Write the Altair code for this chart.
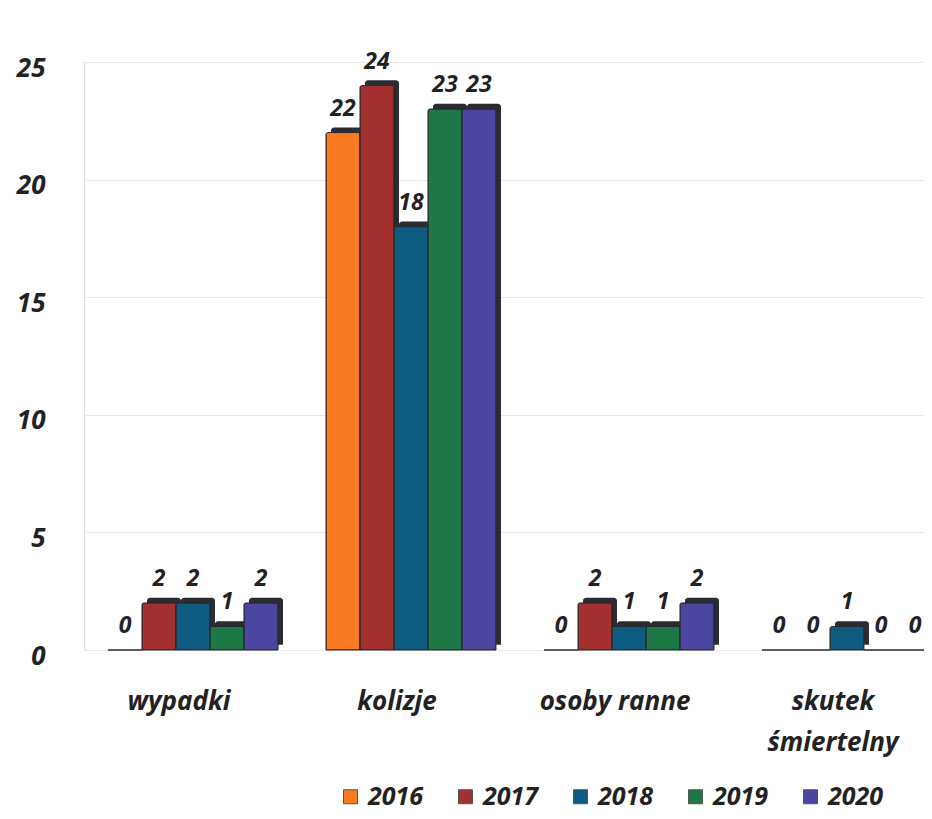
import altair as alt
import pandas as pd

categories = ["wypadki", "kolizje", "osoby ranne", "skutek|śmiertelny"]
years = ["2016", "2017", "2018", "2019", "2020"]
values = {
    "2016": [0, 22, 0, 0],
    "2017": [2, 24, 2, 0],
    "2018": [2, 18, 1, 1],
    "2019": [1, 23, 1, 0],
    "2020": [2, 23, 2, 0],
}
colors = ["#FA7A22", "#A3312F", "#0D5B80", "#1E7746", "#4B47A0"]

rows = []
for y in years:
    for c, v in zip(categories, values[y]):
        rows.append({"kategoria": c, "rok": y, "wartosc": v})
df = pd.DataFrame(rows)

FONT = "Open Sans"
TXT = "#222222"
DEPTH = 0.22  # 3D depth of the bar sides, in value units

xenc = alt.X("kategoria:N", sort=categories, title=None,
             scale=alt.Scale(range=[0, 872], paddingInner=0.22, paddingOuter=0.11),
             axis=alt.Axis(labelExpr="split(datum.label, '|')", labelAngle=0,
                           labelFont=FONT, labelFontSize=26, labelFontStyle="italic",
                           labelFontWeight="bold", labelColor=TXT,
                           labelPadding=38, labelLineHeight=41, labelBaseline="top",
                           labelOffset=-14,
                           domain=False, ticks=False, grid=False))
yaxis = alt.Axis(values=[0, 5, 10, 15, 20, 25], labelFont=FONT,
                 labelFontSize=26, labelFontStyle="italic",
                 labelFontWeight="bold", labelColor=TXT,
                 labelPadding=39, labelOffset=6, domain=False, ticks=False,
                 gridColor="#E6E6E6", gridWidth=1)
yscale = alt.Scale(domain=[0, 25])

shadow = alt.Chart(df).transform_calculate(
    top=f"datum.wartosc + {DEPTH}", bot=f"{DEPTH}"
).mark_bar(color="#2b2b33", cornerRadiusTopRight=3, cornerRadiusTopLeft=3).encode(
    x=xenc,
    xOffset=alt.XOffset("rok:N", sort=years, scale=alt.Scale(range=[5, 175])),
    y=alt.Y("top:Q", title=None, scale=yscale, axis=yaxis),
    y2="bot:Q",
)

bars = alt.Chart(df).mark_bar(stroke="#2a2a2a", strokeWidth=1, cornerRadiusTopRight=2,
                              cornerRadiusTopLeft=2).encode(
    x=xenc,
    xOffset=alt.XOffset("rok:N", sort=years, scale=alt.Scale(range=[0, 170])),
    y=alt.Y("wartosc:Q", title=None, scale=yscale, axis=yaxis),
    color=alt.Color("rok:N", sort=years,
                    scale=alt.Scale(domain=years, range=colors),
                    legend=alt.Legend(title=None, orient="none", direction="horizontal",
                                      legendX=254, legendY=722,
                                      symbolType="square", symbolSize=196,
                                      symbolStrokeColor="#555555", symbolStrokeWidth=1,
                                      labelFont=FONT, labelFontSize=25,
                                      labelFontStyle="italic", labelFontWeight="bold",
                                      labelColor=TXT, columnPadding=29,
                                      labelOffset=5)),
)

labels = alt.Chart(df).mark_text(dy=-24, font=FONT, fontSize=23, fontStyle="italic",
                                 fontWeight="bold", color=TXT).encode(
    x=xenc,
    xOffset=alt.XOffset("rok:N", sort=years, scale=alt.Scale(range=[0, 170])),
    y=alt.Y("wartosc:Q", title=None, scale=yscale, axis=yaxis),
    text=alt.Text("wartosc:Q"),
)

chart = alt.layer(shadow, bars, labels).resolve_scale(
    xOffset="independent"
).properties(
    width=840, height=588,
    autosize=alt.AutoSizeParams(type="none"),
    padding={"top": 54, "left": 76, "right": 0, "bottom": 161},
).configure_view(stroke=None).configure(background="white")

chart.save("out.html", embed_options={"renderer": "svg", "actions": False})
